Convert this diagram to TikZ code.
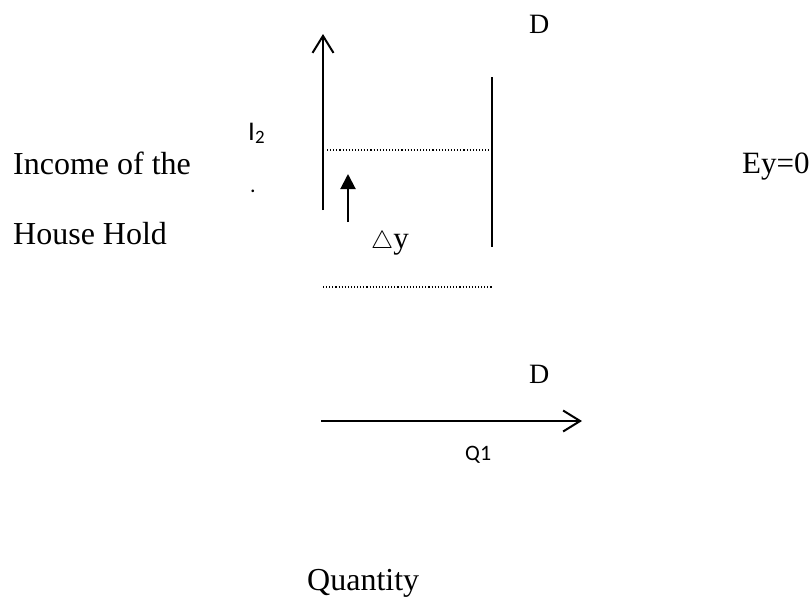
\documentclass[tikz,border=0pt]{standalone}
\usepackage{fontspec}
\setmainfont{Liberation Serif}
\newfontfamily\calib{Carlito}
\usetikzlibrary{arrows.meta}

\begin{document}
\begin{tikzpicture}[x=1pt,y=-1pt,
  axis/.style={line width=2pt},
  guide/.style={line width=1.1pt, dotted},
  lbl/.style={inner sep=0pt, anchor=base west},
  big/.style={font=\fontsize{32}{38}\selectfont},
  mid/.style={font=\fontsize{28}{33}\selectfont},
  sans/.style={font=\calib\fontsize{22}{26}\selectfont}]
  \useasboundingbox (0,0) rectangle (810,600);
  % upper panel: income axis and the vertical demand line
  \coordinate (yb) at (323,210);
  \coordinate (yt) at (323,34);
  \coordinate (dtop) at (492,77);
  \coordinate (dbot) at (492,247);
  \coordinate (iup) at (327,150);
  \coordinate (iend) at (492,150);
  \coordinate (ilo) at (323,287);
  \coordinate (iloend) at (492,287);
  \coordinate (sb) at (348,222);
  \coordinate (st) at (348,174);
  \draw[axis, -{Straight Barb[length=17pt,width=21pt]}] (yb) -- (yt);
  \draw[axis] (dtop) -- (dbot);
  \draw[guide] (iup) -- (iend);
  \draw[guide] (ilo) -- (iloend);
  \draw[axis, -{Triangle[length=15pt,width=15pt]}] (sb) -- (st);
  \node[lbl, mid] (dup) at (529,33) {D};
  \node[lbl, font=\fontsize{31}{36}\selectfont] (dy) at (371,248) {$\triangle$y};
  \node[lbl, sans, font=\calib\fontsize{27}{30}\selectfont] (inc) at (248,140) {I\textsubscript{2}};
  \node[lbl, sans] (dot) at (250,192) {.};
  \node[lbl, big] (lab1) at (13,174) {Income of the};
  \node[lbl, big] (lab2) at (13,244) {House Hold};
  \node[lbl, big, font=\fontsize{31}{36}\selectfont] (ey) at (742,173) {Ey=0};
  % lower panel: quantity axis
  \coordinate (qa) at (321,421);
  \coordinate (qb) at (582,421);
  \draw[axis, -{Straight Barb[length=17pt,width=21pt]}] (qa) -- (qb);
  \node[lbl, mid] (dlow) at (529,383) {D};
  \node[lbl, sans] (q1) at (465,460) {Q1};
  \node[lbl, big] (qty) at (307,590) {Quantity};
\end{tikzpicture}
\end{document}
